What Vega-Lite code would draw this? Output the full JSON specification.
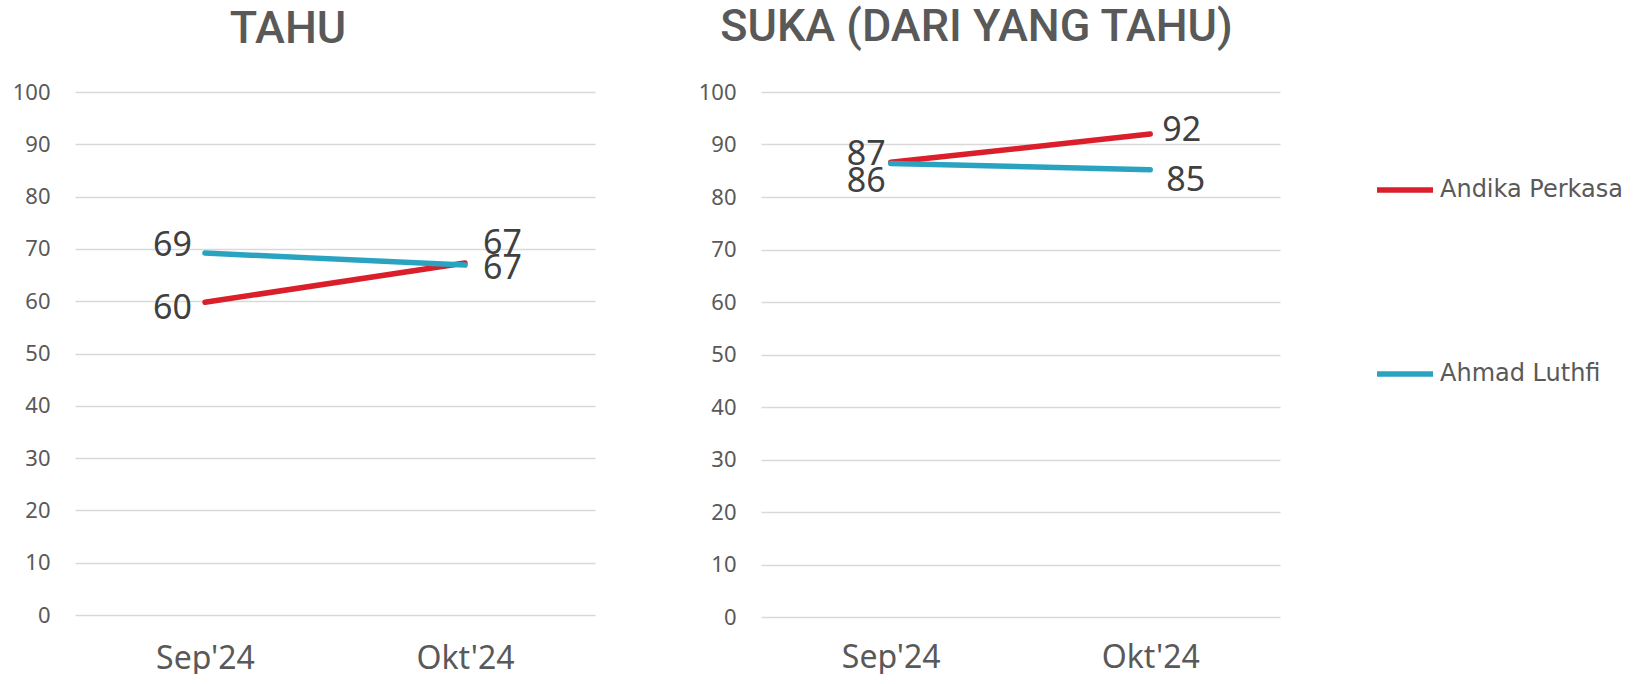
{
  "$schema": "https://vega.github.io/schema/vega-lite/v6.json",
  "padding": {"left": 0, "top": 4, "right": 0, "bottom": 0},
  "background": "white",
  "spacing": 91,
  "data": {"values": [
    {"panel": "TAHU", "candidate": "Andika Perkasa", "month": "Sep'24", "value": 59.8},
    {"panel": "TAHU", "candidate": "Andika Perkasa", "month": "Okt'24", "value": 67.3},
    {"panel": "TAHU", "candidate": "Ahmad Luthfi", "month": "Sep'24", "value": 69.2},
    {"panel": "TAHU", "candidate": "Ahmad Luthfi", "month": "Okt'24", "value": 66.9},
    {"panel": "SUKA", "candidate": "Andika Perkasa", "month": "Sep'24", "value": 86.6},
    {"panel": "SUKA", "candidate": "Andika Perkasa", "month": "Okt'24", "value": 92.0},
    {"panel": "SUKA", "candidate": "Ahmad Luthfi", "month": "Sep'24", "value": 86.4},
    {"panel": "SUKA", "candidate": "Ahmad Luthfi", "month": "Okt'24", "value": 85.2}
  ]},
  "config": {
    "view": {"stroke": null},
    "font": "Noto Sans",
    "title": {"font": "Roboto", "fontSize": 45, "fontWeight": 500, "color": "#595959", "anchor": "middle"},
    "axisY": {"domain": false, "ticks": false, "grid": true, "gridColor": "#d9d9d9", "gridWidth": 1.5, "labelFont": "Noto Sans", "labelFontSize": 22, "labelColor": "#595959", "labelPadding": 25, "values": [0, 10, 20, 30, 40, 50, 60, 70, 80, 90, 100], "title": null, "minExtent": 75, "maxExtent": 75},
    "axisX": {"domain": false, "ticks": false, "grid": false, "labelFont": "Noto Sans", "labelFontSize": 32, "labelColor": "#595959", "labelPadding": 28, "title": null, "labelAngle": 0}
  },
  "resolve": {"scale": {"color": "shared"}},
  "hconcat": [
    {
      "width": 520, "height": 523,
      "title": {"text": "TAHU", "dx": -47, "offset": 29},
      "transform": [{"filter": {"field": "panel", "equal": "TAHU"}}],
      "encoding": {
        "x": {"field": "month", "type": "ordinal", "sort": ["Sep'24", "Okt'24"], "scale": {"type": "point", "padding": 0.5}},
        "y": {"field": "value", "type": "quantitative", "scale": {"domain": [0, 100], "nice": false}}
      },
      "layer": [
        {
          "mark": {"type": "line", "strokeWidth": 5.5, "strokeCap": "round"},
          "encoding": {
            "color": {"field": "candidate", "type": "nominal", "sort": ["Andika Perkasa", "Ahmad Luthfi"],
              "scale": {"domain": ["Andika Perkasa", "Ahmad Luthfi"], "range": ["#DA1F2A", "#2AA3C1"]},
              "legend": {"orient": "none", "legendX": 1299, "legendY": 67, "title": null, "symbolType": "stroke", "symbolSize": 3136, "symbolStrokeWidth": 5.5, "labelFont": "DejaVu Sans", "labelFontSize": 24, "labelLimit": 400, "labelColor": "#595959", "rowPadding": 141, "labelOffset": 4}}
          }
        },
        {
          "transform": [{"filter": {"field": "month", "equal": "Sep'24"}}],
          "mark": {"type": "text", "align": "right", "baseline": "middle", "dx": -13, "dy": {"expr": "datum.candidate == 'Ahmad Luthfi' ? -7 : 7"}, "fontSize": 34, "color": "#404040"},
          "encoding": {"text": {"field": "value", "type": "quantitative", "format": ".0f"}}
        },
        {
          "transform": [{"filter": {"field": "month", "equal": "Okt'24"}}],
          "mark": {"type": "text", "align": "left", "baseline": "middle", "dx": 18, "dy": {"expr": "datum.candidate == 'Ahmad Luthfi' ? 4 : -19"}, "fontSize": 34, "color": "#404040"},
          "encoding": {"text": {"field": "value", "type": "quantitative", "format": ".0f"}}
        }
      ]
    },
    {
      "width": 519, "height": 525,
      "title": {"text": "SUKA (DARI YANG TAHU)", "dx": -44, "offset": 31.5},
      "transform": [{"filter": {"field": "panel", "equal": "SUKA"}}],
      "encoding": {
        "x": {"field": "month", "type": "ordinal", "sort": ["Sep'24", "Okt'24"], "scale": {"type": "point", "padding": 0.5}, "axis": {"labelPadding": 25.5}},
        "y": {"field": "value", "type": "quantitative", "scale": {"domain": [0, 100], "nice": false}}
      },
      "layer": [
        {
          "mark": {"type": "line", "strokeWidth": 5.5, "strokeCap": "round"},
          "encoding": {
            "color": {"field": "candidate", "type": "nominal", "sort": ["Andika Perkasa", "Ahmad Luthfi"]}
          }
        },
        {
          "transform": [{"filter": {"field": "month", "equal": "Sep'24"}}],
          "mark": {"type": "text", "align": "right", "baseline": "middle", "dx": -5, "dy": {"expr": "datum.candidate == 'Ahmad Luthfi' ? 19 : -7"}, "fontSize": 34, "color": "#404040"},
          "encoding": {"text": {"field": "value", "type": "quantitative", "format": ".0f"}}
        },
        {
          "transform": [{"filter": {"field": "month", "equal": "Okt'24"}}],
          "mark": {"type": "text", "align": "left", "baseline": "middle", "dx": {"expr": "datum.candidate == 'Ahmad Luthfi' ? 16 : 12"}, "dy": {"expr": "datum.candidate == 'Ahmad Luthfi' ? 11 : -3"}, "fontSize": 34, "color": "#404040"},
          "encoding": {"text": {"field": "value", "type": "quantitative", "format": ".0f"}}
        }
      ]
    }
  ]
}
